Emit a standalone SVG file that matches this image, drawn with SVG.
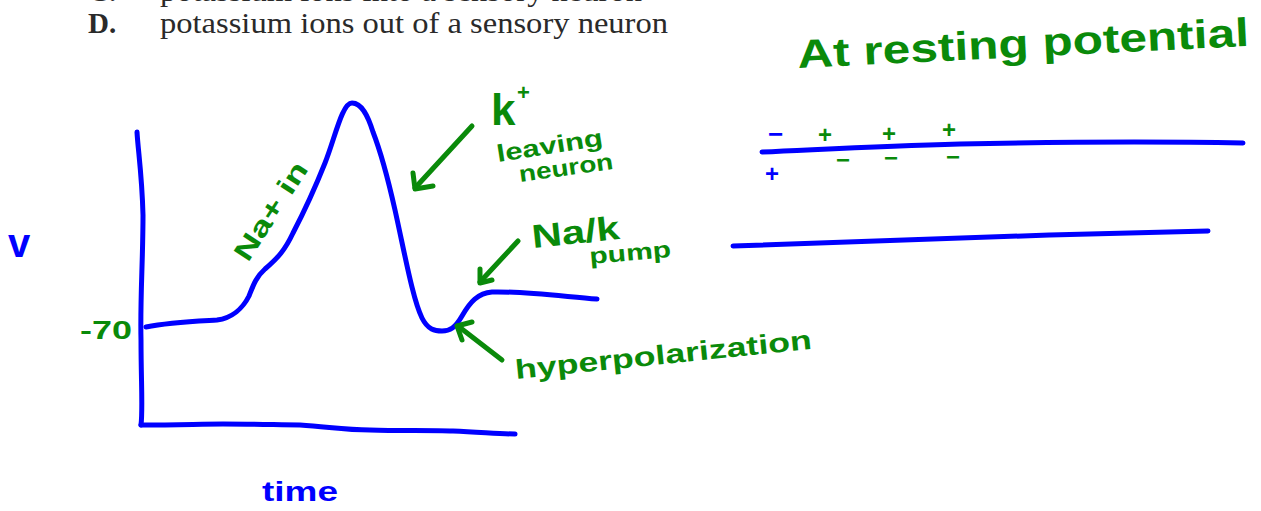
<svg xmlns="http://www.w3.org/2000/svg" width="1261" height="511" viewBox="0 0 1261 511">
<style>
.bl{fill:none;stroke:#0000ff;stroke-width:5;stroke-linecap:round;stroke-linejoin:round}
.gl{fill:none;stroke:#0a8a0a;stroke-width:5;stroke-linecap:round;stroke-linejoin:round}
.g{fill:#0a8a0a;font-family:"Liberation Sans",Arial,sans-serif;font-weight:bold}
.b{fill:#0000ff;font-family:"Liberation Sans",Arial,sans-serif;font-weight:bold}
.p{fill:#2a2a2a;font-family:"Liberation Serif","Times New Roman",serif}
</style>
<rect width="1261" height="511" fill="#ffffff"/>
<g id="question">
<text class="p" x="88" y="1" font-size="29" font-weight="bold">C.</text>
<text class="p" x="160" y="1" font-size="29" textLength="482" lengthAdjust="spacingAndGlyphs">potassium ions into a sensory neuron</text>
<text class="p" x="88" y="33" font-size="29" font-weight="bold">D.</text>
<text class="p" x="160" y="33" font-size="29" textLength="508" lengthAdjust="spacingAndGlyphs">potassium ions out of a sensory neuron</text>
</g>
<g id="axes">
<path class="bl" d="M137,132 C138,150 142,175 143,215 C143,260 140,300 141,340 C141,380 143,410 141,425"/>
<path class="bl" d="M141,425 C180,425 200,424 223,424 C260,424 280,425 300,425 C330,427 345,430 370,430 C400,431 430,430 453,431 C480,432 500,434 515,434"/>
<text class="b" x="8" y="257" font-size="40">v</text>
<text class="b" x="262" y="501" font-size="28" textLength="76" lengthAdjust="spacingAndGlyphs">time</text>
<text class="g" x="80" y="339" font-size="25" textLength="52" lengthAdjust="spacingAndGlyphs">-70</text>
</g>
<g id="curve">
<path class="bl" d="M146,327 C170,322 200,321 217,320 C232,318 243,308 249,296 C253,286 256,277 265,269 C278,258 285,250 293,233 C305,210 315,188 325,163 C335,138 342,103 352,103 C362,103 368,116 373,132 C380,150 386,170 395,210 C405,255 413,300 422,318 C428,330 435,331 442,331 C450,331 455,328 462,316 C470,302 478,293 492,292 C520,291 560,296 597,299"/>
</g>
<g id="labels">
<text class="g" transform="translate(248,263) rotate(-57)" font-size="27" textLength="112" lengthAdjust="spacingAndGlyphs">Na+ in</text>
<text class="g" x="491" y="125" font-size="44">k</text>
<text class="g" x="517" y="100" font-size="22">+</text>
<text class="g" transform="translate(498,162) rotate(-9)" font-size="24" textLength="107" lengthAdjust="spacingAndGlyphs">leaving</text>
<text class="g" transform="translate(520,182) rotate(-8)" font-size="23" textLength="95" lengthAdjust="spacingAndGlyphs">neuron</text>
<text class="g" transform="translate(533,248) rotate(-6)" font-size="33" textLength="88" lengthAdjust="spacingAndGlyphs">Na/k</text>
<text class="g" transform="translate(590,264) rotate(-5)" font-size="23" textLength="82" lengthAdjust="spacingAndGlyphs">pump</text>
<text class="g" transform="translate(516,379) rotate(-5.8)" font-size="27" textLength="298" lengthAdjust="spacingAndGlyphs">hyperpolarization</text>
<text class="g" transform="translate(798,68) rotate(-2.8)" font-size="40" textLength="452" lengthAdjust="spacingAndGlyphs">At resting potential</text>
</g>
<g id="connectors">
<path class="gl" d="M472,126 L415,188"/>
<path class="gl" d="M413,173 L415,189 L433,186"/>
<path class="gl" d="M518,241 L480,282"/>
<path class="gl" d="M480,269 L480,283 L492,280"/>
<path class="gl" d="M502,360 L458,326"/>
<path class="gl" d="M472,322 L457,326 L462,340"/>
</g>
<g id="membrane">
<path class="bl" d="M762,152 C830,149 880,146 960,144 C1050,142 1150,141 1243,143"/>
<path class="bl" d="M733,246 C850,242 950,239 1050,235 C1120,233 1170,232 1208,231"/>
<text class="b" x="768" y="143" font-size="26">−</text>
<text class="b" x="765" y="182" font-size="24">+</text>
<text class="g" x="818" y="143" font-size="24">+</text>
<text class="g" x="882" y="142" font-size="24">+</text>
<text class="g" x="942" y="138" font-size="24">+</text>
<text class="g" x="836" y="168" font-size="24">−</text>
<text class="g" x="884" y="166" font-size="24">−</text>
<text class="g" x="946" y="165" font-size="24">−</text>
</g>
</svg>
